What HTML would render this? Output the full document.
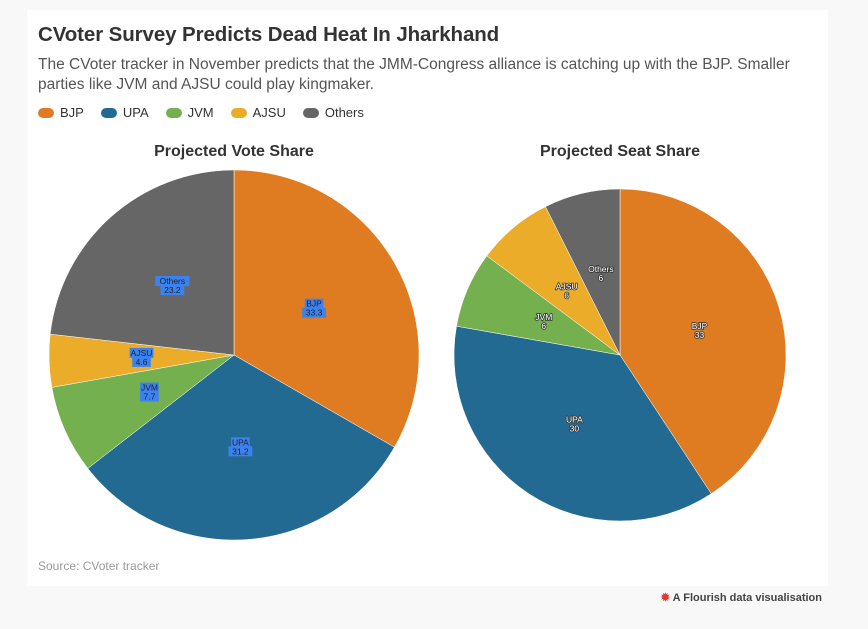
<!DOCTYPE html>
<html><head><meta charset="utf-8"><style>
body{margin:0;width:868px;height:629px;background:#f8f8f8;font-family:"Liberation Sans",sans-serif;overflow:hidden;position:relative}
#card{position:absolute;left:27px;top:10px;width:801px;height:576px;background:#fff}
h1{position:absolute;left:11px;top:13px;margin:0;font-size:20.5px;font-weight:bold;color:#333;letter-spacing:-0.1px}
#sub{position:absolute;left:11px;top:45px;width:780px;font-size:15.5px;line-height:20px;color:#555}
#legend{position:absolute;left:11px;top:95px;font-size:13px;color:#333;display:flex;gap:17px}
#legend span.sw{display:inline-block;width:16px;height:10px;border-radius:5px;margin-right:6px;vertical-align:-1px}
#src{position:absolute;left:11px;top:549px;font-size:12px;color:#999}
#foot{position:absolute;right:46px;top:591px;font-size:11px;font-weight:bold;color:#444}
svg{position:absolute;left:0;top:0}
</style></head><body>
<div id="card">
<h1>CVoter Survey Predicts Dead Heat In Jharkhand</h1>
<div id="sub">The CVoter tracker in November predicts that the JMM-Congress alliance is catching up with the BJP. Smaller parties like JVM and AJSU could play kingmaker.</div>
<div id="legend">
<div><span class="sw" style="background:#df7c21"></span>BJP</div>
<div><span class="sw" style="background:#236a93"></span>UPA</div>
<div><span class="sw" style="background:#74b04d"></span>JVM</div>
<div><span class="sw" style="background:#ebac2a"></span>AJSU</div>
<div><span class="sw" style="background:#666"></span>Others</div>
</div>
<div id="src">Source: CVoter tracker</div>
</div>
<div id="foot"><span style="color:#e8322d">✹</span> A Flourish data visualisation</div>
<svg id="svg" width="868" height="629"></svg>
<script>
const categories=["BJP","UPA","JVM","AJSU","Others"];
const voteValues=[33.3,31.2,7.7,4.6,23.2];
const seatValues=[33,30,6,6,6];
const colors=["#df7c21","#236a93","#74b04d","#ebac2a","#666666"];
const NS="http://www.w3.org/2000/svg";
const svg=document.getElementById('svg');
function mk(t,a){const e=document.createElementNS(NS,t);for(const k in a)e.setAttribute(k,a[k]);svg.appendChild(e);return e;}
function pie(title,vals,cx,cy,r,style,key){
  const t=mk('text',{x:cx,y:156,'text-anchor':'middle','font-size':16,'font-weight':'bold',fill:'#333'});
  t.textContent=title;
  
  
  const tot=vals.reduce((a,b)=>a+b,0);let a0=0;
  vals.forEach((v,i)=>{
    const a1=a0+v/tot*2*Math.PI;
    const p=(a)=>[cx+r*Math.sin(a),cy-r*Math.cos(a)];
    const [x0,y0]=p(a0),[x1,y1]=p(a1);
    const path=mk('path',{d:`M${cx},${cy}L${x0},${y0}A${r},${r} 0 ${a1-a0>Math.PI?1:0} 1 ${x1},${y1}Z`,fill:colors[i],stroke:'#fff','stroke-width':0.5});
    
    
    const am=(a0+a1)/2,lx=cx+r*0.5*Math.sin(am),ly=cy-r*0.5*Math.cos(am);
    [categories[i],String(v)].forEach((s,j)=>{
      const y=ly-2+j*9;
      if(style==='box'){
        const w=s.length*5.2+3;
        const bg=mk('rect',{x:lx-w/2,y:y-8,width:w,height:10,fill:'#3b82f0'});
        
        
      }
      const tx=mk('text',{x:lx,y:y,'text-anchor':'middle','font-size':8.5,fill:style==='box'?'#222':'#fff',stroke:style==='box'?'none':'#333','stroke-width':style==='box'?0:1.6,'paint-order':'stroke'});
      tx.textContent=s;
      
      
    });
    a0=a1;
  });
}
pie('Projected Vote Share',voteValues,234,355,185,'box','vote');
pie('Projected Seat Share',seatValues,620,355,166,'outline','seat');
</script>
</body></html>
